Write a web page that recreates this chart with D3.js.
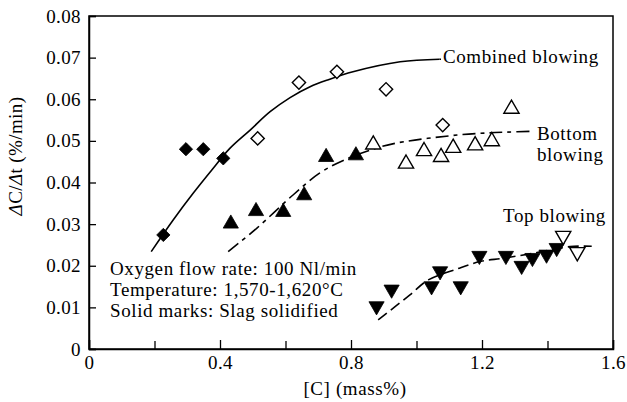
<!DOCTYPE html>
<html>
<head>
<meta charset="utf-8">
<script src="https://cdn.jsdelivr.net/npm/d3@7"></script>
<style>
  html, body { margin: 0; padding: 0; background: #fff; }
  svg { display: block; }
  text { font-family: "Liberation Serif", "Times New Roman", serif; fill: #000; }
</style>
</head>
<body>
<svg id="chart" width="627" height="402"></svg>
<script>
// Decarburization rate vs carbon content for three blowing modes
const xTicks = [0, 0.4, 0.8, 1.2, 1.6];
const xMinorTicks = [0.2, 0.6, 1.0, 1.4];
const yTicks = [0, 0.01, 0.02, 0.03, 0.04, 0.05, 0.06, 0.07, 0.08];

// Combined blowing: open marks (slag liquid), solid marks (slag solidified)
const combinedOpenC = [0.515, 0.641, 0.757, 0.907, 1.08];
const combinedOpenRate = [0.0506, 0.064, 0.0666, 0.0624, 0.0538];
const combinedSolidC = [0.227, 0.296, 0.349, 0.41];
const combinedSolidRate = [0.0274, 0.048, 0.048, 0.0458];

// Bottom blowing
const bottomOpenC = [0.868, 0.968, 1.023, 1.075, 1.112, 1.179, 1.23, 1.29];
const bottomOpenRate = [0.0491, 0.0445, 0.0475, 0.0461, 0.0483, 0.0489, 0.0499, 0.0577];
const bottomSolidC = [0.433, 0.51, 0.593, 0.657, 0.724, 0.815];
const bottomSolidRate = [0.0301, 0.0331, 0.0329, 0.0369, 0.0461, 0.0465];

// Top blowing
const topOpenC = [1.448, 1.491];
const topOpenRate = [0.0272, 0.0233];
const topSolidC = [0.878, 0.924, 1.046, 1.072, 1.135, 1.192, 1.273, 1.321, 1.354, 1.397, 1.428];
const topSolidRate = [0.0103, 0.0143, 0.0151, 0.0187, 0.0151, 0.0224, 0.0224, 0.02, 0.0219, 0.0227, 0.0243];

// Hand-drawn trend curves
const combinedFitC = [0.19, 0.257, 0.318, 0.375, 0.43, 0.492, 0.553, 0.614, 0.675, 0.731, 0.806, 0.95, 1.07];
const combinedFitRate = [0.0234, 0.031, 0.0374, 0.043, 0.0482, 0.0526, 0.057, 0.0604, 0.063, 0.0647, 0.0666, 0.069, 0.0696];
const bottomFitC = [0.425, 0.512, 0.623, 0.705, 0.779, 0.867, 0.94, 1.124, 1.215, 1.276, 1.35];
const bottomFitRate = [0.0234, 0.029, 0.037, 0.0423, 0.0454, 0.048, 0.0495, 0.0514, 0.0519, 0.0521, 0.0523];
const topFitC = [0.883, 0.98, 1.036, 1.123, 1.194, 1.265, 1.357, 1.469, 1.535];
const topFitRate = [0.007, 0.013, 0.0166, 0.0192, 0.021, 0.0218, 0.023, 0.0246, 0.0247];

const conditions = [
  "Oxygen flow rate: 100 Nl/min",
  "Temperature: 1,570-1,620\u00B0C",
  "Solid marks: Slag solidified"
];

const svg = d3.select("#chart");
const plotLeft = 89, plotRight = 613, plotTop = 16, plotBottom = 349;
const fontSize = 19, spacing = "0.6px";

const x = d3.scaleLinear().domain([0, 1.6]).range([plotLeft, plotRight]);
const y = d3.scaleLinear().domain([0, 0.08]).range([plotBottom, plotTop]);

const zip = (a, b) => a.map((v, i) => [v, b[i]]);

// Frame
svg.append("rect")
  .attr("x", plotLeft).attr("y", plotTop)
  .attr("width", plotRight - plotLeft).attr("height", plotBottom - plotTop)
  .attr("fill", "none").attr("stroke", "#000").attr("stroke-width", 1.5);

// Axes with inward ticks
const xAxis = svg.append("g").attr("transform", `translate(0,${plotBottom})`)
  .call(d3.axisBottom(x).tickValues(xTicks).tickSize(-9).tickPadding(7)
    .tickFormat(d => d === 0 ? "0" : d3.format(".1f")(d)));
xAxis.select(".domain").attr("stroke-width", 1.5);
xAxis.selectAll("text").attr("font-size", fontSize).attr("font-family", "Liberation Serif")
  .attr("letter-spacing", "0.4px");
xAxis.selectAll(".tick line").attr("stroke-width", 1.3);

svg.append("g").attr("transform", `translate(0,${plotBottom})`)
  .call(d3.axisBottom(x).tickValues(xMinorTicks).tickSize(-8).tickFormat(""))
  .call(g => g.select(".domain").remove())
  .selectAll(".tick line").attr("stroke-width", 1.3);

const yAxis = svg.append("g").attr("transform", `translate(${plotLeft},0)`)
  .call(d3.axisLeft(y).tickValues(yTicks).tickSize(-7).tickPadding(8)
    .tickFormat(d => d === 0 ? "0" : d3.format(".2f")(d)));
yAxis.select(".domain").attr("stroke-width", 1.5);
yAxis.selectAll("text").attr("font-size", fontSize).attr("font-family", "Liberation Serif")
  .attr("letter-spacing", "0.4px");
yAxis.selectAll(".tick line").attr("stroke-width", 1.3);

// Axis titles
svg.append("text")
  .attr("x", 355).attr("y", 395)
  .attr("text-anchor", "middle").attr("font-size", fontSize).attr("letter-spacing", spacing)
  .text("[C] (mass%)");

svg.append("text")
  .attr("transform", "translate(22,156) rotate(-90)")
  .attr("text-anchor", "middle").attr("font-size", fontSize).attr("letter-spacing", "0.4px")
  .html('<tspan font-style="italic">\u0394</tspan>C/<tspan font-style="italic">\u0394</tspan>t (%/min)');

// Trend curves
const line = d3.line().x(d => x(d[0])).y(d => y(d[1])).curve(d3.curveCatmullRom);

svg.append("path").datum(zip(combinedFitC, combinedFitRate))
  .attr("d", line).attr("fill", "none").attr("stroke", "#000").attr("stroke-width", 1.6);
svg.append("path").datum(zip(bottomFitC, bottomFitRate))
  .attr("d", line).attr("fill", "none").attr("stroke", "#000").attr("stroke-width", 1.6)
  .attr("stroke-dasharray", "13,5,4,5");
svg.append("path").datum(zip(topFitC, topFitRate))
  .attr("d", line).attr("fill", "none").attr("stroke", "#000").attr("stroke-width", 1.6)
  .attr("stroke-dasharray", "11,5");

// Leader line to the combined-blowing label
svg.append("line")
  .attr("x1", x(1.07)).attr("y1", y(0.0696))
  .attr("x2", 441).attr("y2", y(0.0696))
  .attr("stroke", "#000").attr("stroke-width", 1.6);

// Markers
const diamond = d3.symbol().type(d3.symbolSquare).size(88);
const triangle = d3.symbol().type(d3.symbolTriangle).size(100);

function drawMarks(cs, rs, path, rot, filled) {
  svg.append("g").selectAll("path").data(zip(cs, rs)).join("path")
    .attr("d", path)
    .attr("transform", d => `translate(${x(d[0])},${y(d[1])}) rotate(${rot})`)
    .attr("fill", filled ? "#000" : "#fff")
    .attr("stroke", "#000").attr("stroke-width", filled ? 0.8 : 1.4);
}

drawMarks(combinedOpenC, combinedOpenRate, diamond, 45, false);
drawMarks(combinedSolidC, combinedSolidRate, diamond, 45, true);
drawMarks(bottomOpenC, bottomOpenRate, triangle, 0, false);
drawMarks(bottomSolidC, bottomSolidRate, triangle, 0, true);
drawMarks(topSolidC, topSolidRate, triangle, 180, true);
drawMarks(topOpenC, topOpenRate, triangle, 180, false);

// Curve labels
function label(tx, ty, s) {
  svg.append("text").attr("x", tx).attr("y", ty)
    .attr("font-size", fontSize).attr("letter-spacing", spacing).text(s);
}
label(443, 63, "Combined blowing");
label(537, 140, "Bottom");
label(537, 161, "blowing");
label(503, 222, "Top blowing");

// Experimental conditions
svg.append("g").selectAll("text").data(conditions).join("text")
  .attr("x", 110).attr("y", (d, i) => 275 + i * 21)
  .attr("font-size", fontSize).attr("letter-spacing", spacing)
  .text(d => d);
</script>
</body>
</html>
